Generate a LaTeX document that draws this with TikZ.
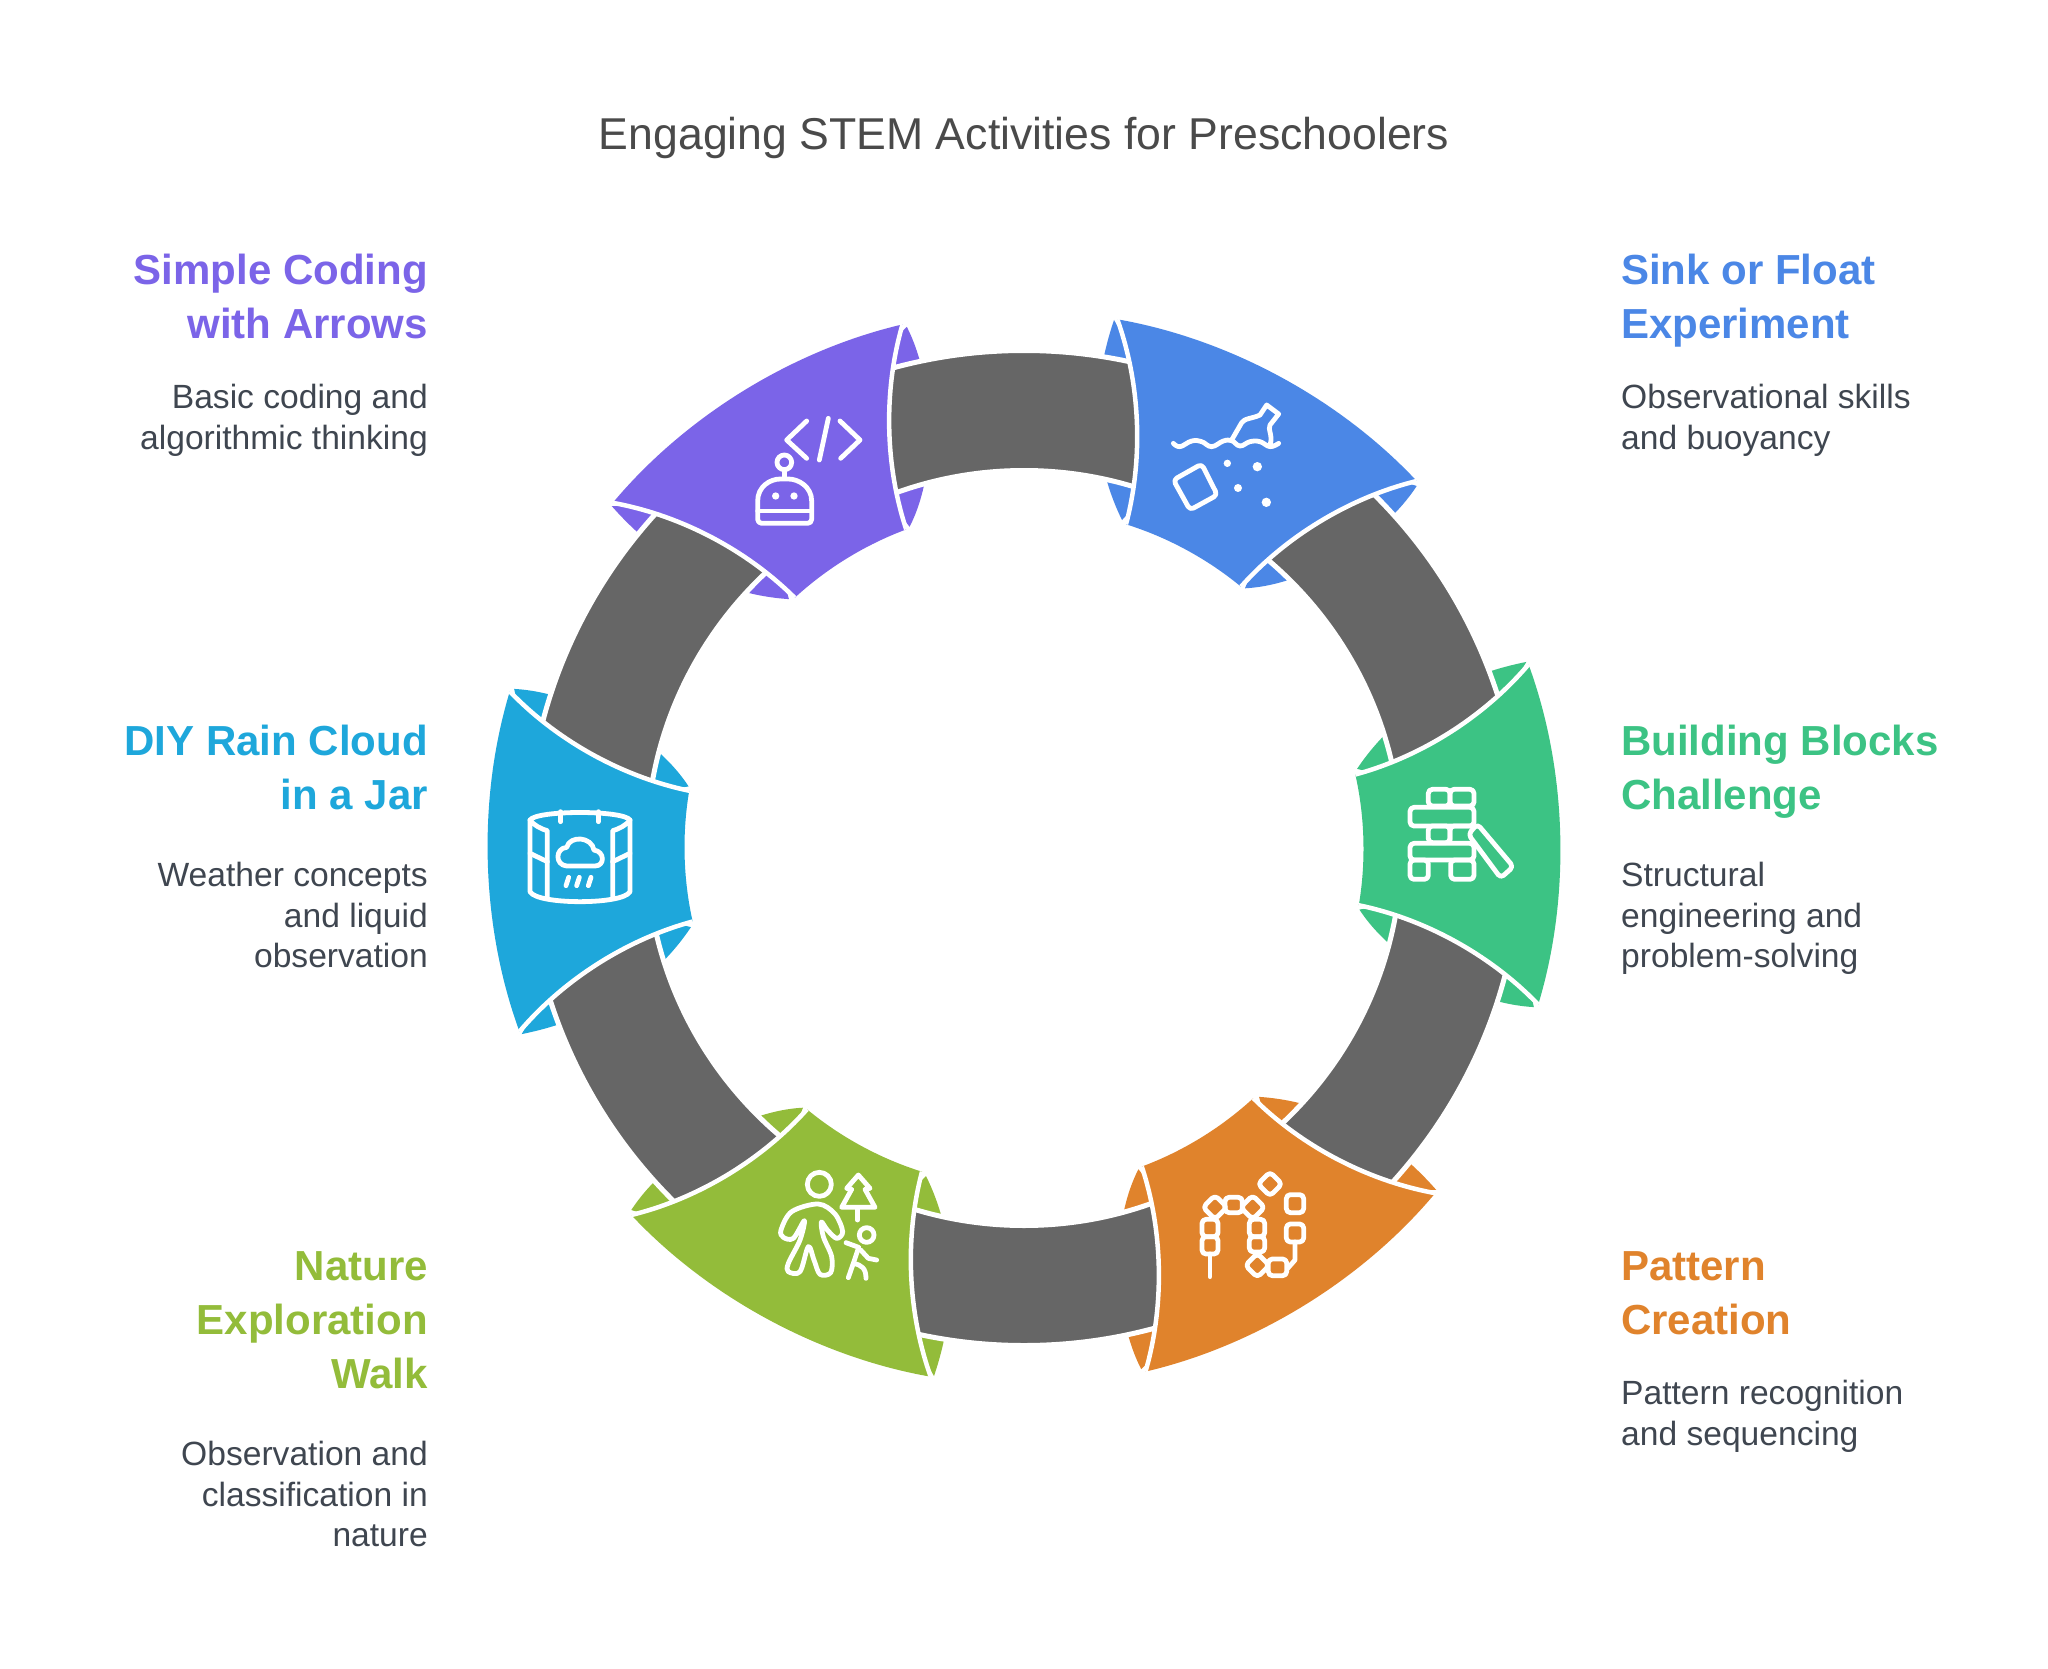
\documentclass[tikz,border=0pt]{standalone}
\usepackage{fontspec}
\setmainfont{Liberation Sans}
\definecolor{cblue}{HTML}{4B87E6}
\definecolor{cpurple}{HTML}{7B64E8}
\definecolor{ccyan}{HTML}{1EA7DB}
\definecolor{cgreen}{HTML}{3CC384}
\definecolor{corange}{HTML}{E0832C}
\definecolor{clime}{HTML}{93BC3A}
\definecolor{cring}{HTML}{666666}
\definecolor{ctext}{HTML}{3F4650}
\definecolor{ctitle}{HTML}{4A4A4A}
\tikzset{
  x=1pt,y=-1pt,
  looseness=0.85,
  ringband/.style={fill=cring,even odd rule,draw=white,line width=5pt},
  gapline/.style={draw=white,line width=4.5pt},
  iconline/.style={draw=white,line width=4.8pt,line cap=round,line join=round},
  icondot/.style={fill=white},
  headl/.style={anchor=north east,inner sep=0pt,align=right,font=\fontsize{42}{54}\selectfont\bfseries},
  headr/.style={anchor=north west,inner sep=0pt,align=left,font=\fontsize{42}{54}\selectfont\bfseries},
  descl/.style={anchor=north east,inner sep=0pt,align=right,text=ctext,font=\fontsize{33.6}{40.5}\selectfont},
  descr/.style={anchor=north west,inner sep=0pt,align=left,text=ctext,font=\fontsize{33.6}{40.5}\selectfont},
  titletext/.style={inner sep=0pt,anchor=base,text=ctitle,font=\fontsize{44.6}{50}\selectfont},
  rbox/.style={iconline,rounded corners=4pt},
}
\newcommand{\petalunder}[2]{%
  \begin{scope}[rotate around={-60*#2:(1024,848)}]
    \fill[#1] (1114,320) .. controls (1092,385) and (1090,455) .. (1122,520) -- (1190,450) -- cycle;
    \fill[#1] (1416.7,486) .. controls (1385,535) and (1310,585) .. (1245,588.3) -- (1300,450) -- cycle;
  \end{scope}}
\newcommand{\petaltop}[2]{%
  \begin{scope}[rotate around={-60*#2:(1024,848)}]
    \fill[#1] (1117.3,319.3) to[bend left=18.5] (1416.7,481) to[bend right=17.3] (1241,586.7)
       to[bend right=11.15] (1126,524.3) to[bend right=17.3] cycle;
    \draw[gapline] (1126,524.3) to[bend right=17.3] (1117.3,319.3);
    \draw[gapline] (1416.7,481) to[bend right=17.3] (1241,586.7);
  \end{scope}}
\begin{document}
\begin{tikzpicture}
\useasboundingbox (0,0) rectangle (2048,1669);
\fill[white] (0,0) rectangle (2048,1669);
\coordinate (c) at (1024,848);

% under-layers of the petals
\petalunder{cblue}{0}\petalunder{cgreen}{1}\petalunder{corange}{2}
\petalunder{clime}{3}\petalunder{ccyan}{4}\petalunder{cpurple}{5}
% grey ring
\path[ringband] (c) circle[radius=497.5pt] (c) circle[radius=377.5pt];
% petals
\petaltop{cblue}{0}\petaltop{cgreen}{1}\petaltop{corange}{2}
\petaltop{clime}{3}\petaltop{ccyan}{4}\petaltop{cpurple}{5}

% --- icon: sink or float
\begin{scope}[shift={(1040,290)},scale=1/3]
  \draw[iconline] plot[smooth,tension=0.7] coordinates {(400,460)(420,470)(455,453)(485,455)(515,470)(550,453)(575,452)(600,468)(630,455)(660,455)(690,470)(716,460)};
  \draw[iconline] (575,450) -- (605,398) .. controls (612,385) and (640,385) .. (660,375) -- (680,345) -- (716,372) -- (690,405) .. controls (682,420) and (700,435) .. (690,465);
  \draw[rbox] (400,570) -- (485,522) -- (532,615) -- (450,660) -- cycle;
  \fill[icondot] (562,520) circle (11) (652,530) circle (14) (594,594) circle (12) (679,637) circle (14);
\end{scope}
% --- icon: simple coding
\begin{scope}[shift={(590,290)},scale=1/3]
  \draw[iconline] (650,393) -- (590,450) -- (650,505);
  \draw[iconline] (715,385) -- (688,510);
  \draw[iconline] (750,393) -- (810,450) -- (752,505);
  \draw[iconline] (583,517) circle (22);
  \draw[iconline] (583,540) -- (583,565);
  \draw[rbox] (503,700) -- (503,645) .. controls (503,590) and (540,567) .. (583,567) .. controls (625,567) and (665,590) .. (665,645) -- (665,700) -- cycle;
  \draw[iconline] (503,663) -- (665,663);
  \fill[icondot] (557,618) circle (11) (612,618) circle (11);
\end{scope}
% --- icon: rain cloud jar
\begin{scope}[shift={(470,670)},scale=1/3]
  \draw[iconline] (180,450) .. controls (200,420) and (460,420) .. (480,450) -- (480,665) .. controls (460,705) and (200,705) .. (180,665) -- cycle;
  \draw[iconline] (180,450) .. controls (190,465) and (215,478) .. (232,482) -- (232,680);
  \draw[iconline] (480,450) .. controls (470,465) and (445,478) .. (428,482) -- (428,680);
  \draw[iconline] (272,425) -- (272,455);
  \draw[iconline] (385,425) -- (385,455);
  \draw[iconline] (180,550) -- (232,575);
  \draw[iconline] (480,550) -- (428,575);
  \draw[iconline] (290,588) .. controls (255,585) and (255,535) .. (290,532) .. controls (300,495) and (365,500) .. (372,540) .. controls (405,545) and (405,588) .. (375,588) -- cycle;
  \draw[iconline] (288,647) -- (296,622);
  \draw[iconline] (320,647) -- (328,622);
  \draw[iconline] (355,647) -- (363,622);
\end{scope}
% --- icon: building blocks
\begin{scope}[shift={(1320,650)},scale=1/3]
  \draw[rbox] (325,468) rectangle (390,418);
  \draw[rbox] (390,468) rectangle (462,418);
  \draw[rbox] (270,528) rectangle (462,472);
  \draw[rbox] (325,578) rectangle (390,528);
  \draw[rbox] (390,578) -- (390,528) -- (450,528);
  \draw[rbox] (270,630) rectangle (462,580);
  \draw[rbox] (270,688) rectangle (325,630);
  \draw[rbox] (392,688) rectangle (462,630);
  \draw[rbox] (472,522) -- (580,650) -- (542,684) -- (445,553) -- cycle;
\end{scope}
% --- icon: pattern creation
\begin{scope}[shift={(1120,1080)},scale=1/3]
  \foreach \px/\py in {450/312,398/382,285/382,412/556}
    \draw[rbox] (\px-36,\py) -- (\px,\py-36) -- (\px+36,\py) -- (\px,\py+36) -- cycle;
  \draw[rbox] (499,344) rectangle (551,398);
  \draw[rbox] (499,432) rectangle (551,486);
  \draw[rbox] (445,537) rectangle (500,587);
  \draw[rbox] (388,470) rectangle (434,516);
  \draw[rbox] (388,418) rectangle (434,470);
  \draw[rbox] (315,352) rectangle (367,398);
  \draw[rbox] (246,418) rectangle (294,470);
  \draw[rbox] (246,470) rectangle (294,522);
  \draw[iconline] (270,522) -- (270,590);
  \draw[iconline] (525,486) -- (525,540) -- (503,565);
\end{scope}
% --- icon: nature walk
\begin{scope}[shift={(620,1090)},scale=1/3]
  \draw[iconline] (598,283) circle (36);
  \draw[iconline] plot[smooth cycle,tension=0.55] coordinates {(595,342)(645,372)(668,425)(650,445)(622,420)(604,396)(610,440)(635,500)(632,548)(600,553)(582,510)(565,470)(540,545)(505,545)(505,520)(540,450)(553,392)(520,445)(490,442)(483,420)(515,365)};
  \draw[iconline] (715,255) -- (750,295) -- (735,298) -- (765,352) -- (665,352) -- (695,298) -- (680,295) -- cycle;
  \draw[iconline] (713,355) -- (713,390);
  \draw[iconline] (740,435) circle (22);
  \draw[iconline] (678,458) -- (716,472) -- (700,520) -- (685,563);
  \draw[iconline] (700,520) .. controls (725,525) and (738,535) .. (738,565);
  \draw[iconline] (722,480) -- (745,505) -- (770,510);
\end{scope}

% --- texts
\node[titletext] (title) at (1024,150) {Engaging STEM Activities for Preschoolers};

\node[headl,text=cpurple] (h1) at (428,254) {Simple Coding\\with Arrows};
\node[descl] (d1) at (428,384) {Basic coding and\\algorithmic thinking};
\node[headr,text=cblue] (h2) at (1621,254) {Sink or Float\\Experiment};
\node[descr] (d2) at (1621,384) {Observational skills\\and buoyancy};
\node[headl,text=ccyan] (h3) at (428,725) {DIY Rain Cloud\\in a Jar};
\node[descl] (d3) at (428,862) {Weather concepts\\and liquid\\observation};
\node[headr,text=cgreen] (h4) at (1621,725) {Building Blocks\\Challenge};
\node[descr] (d4) at (1621,862) {Structural\\engineering and\\problem-solving};
\node[headl,text=clime] (h5) at (428,1251) {Nature\\Exploration\\Walk};
\node[descl] (d5) at (428,1441) {Observation and\\classification in\\nature};
\node[headr,text=corange] (h6) at (1621,1251) {Pattern\\Creation};
\node[descr] (d6) at (1621,1380) {Pattern recognition\\and sequencing};
\end{tikzpicture}
\end{document}
